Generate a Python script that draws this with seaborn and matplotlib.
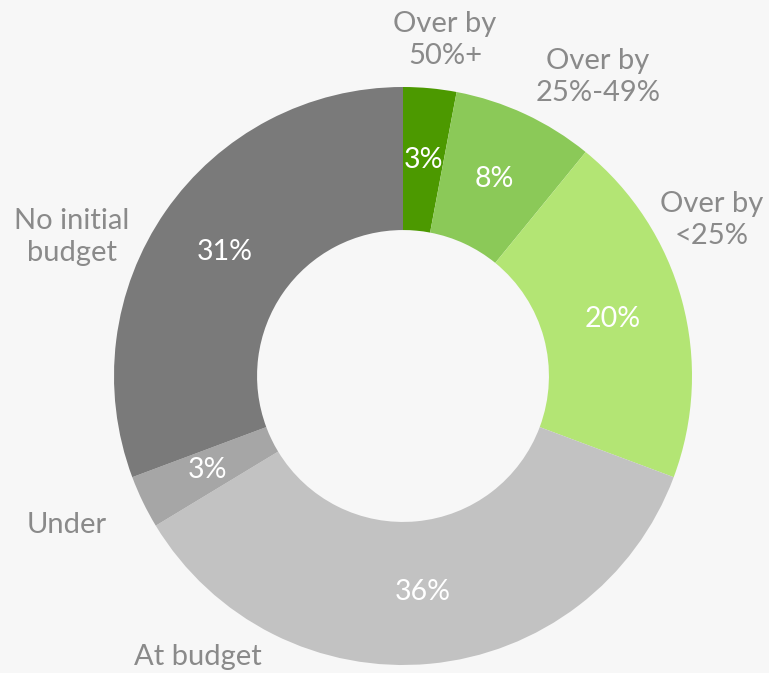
import seaborn as sns
import matplotlib.pyplot as plt

categorias = ['Over by\n50%+', 'Over by\n25%-49%', 'Over by\n<25%',
              'At budget', 'Under', 'No initial\nbudget']
valores = [3, 8, 20, 36, 3, 31]
cores = ['#4c9900', '#8bc958', '#b3e574', '#c2c2c2', '#a6a6a6', '#7a7a7a']

# posicao dos rotulos externos (coordenadas do grafico)
pos_rotulos = [(0.145, 1.163), (0.675, 1.035), (1.069, 0.540),
               (-0.709, -0.972), (-1.163, -0.516), (-1.145, 0.481)]

sns.set_theme(style='white')
plt.rcParams['font.family'] = ['Lato', 'DejaVu Sans']
paleta = sns.color_palette(cores)

fig = plt.figure(figsize=(7.69, 6.73), dpi=100, facecolor='#f7f7f7')
ax = fig.add_axes([114 / 769, (673 - 376 - 289) / 673, 578 / 769, 578 / 673])
ax.set_facecolor('#f7f7f7')

wedges, textos, pcts = ax.pie(valores, colors=paleta, startangle=90, counterclock=False,
                              radius=1, wedgeprops=dict(width=0.495, linewidth=0),
                              autopct=lambda p: f'{p:.0f}%', pctdistance=0.75)
for t in pcts:
    t.set_color('white')
    t.set_fontsize(20.5)

for nome, (x, y) in zip(categorias, pos_rotulos):
    ax.text(x, y, nome, ha='center', va='center', fontsize=21, color='#8a8a8a',
            linespacing=1.25)

ax.set_xlim(-1, 1)
ax.set_ylim(-1, 1)
ax.set_aspect('equal')
ax.axis('off')

plt.savefig('out.png', dpi=100, facecolor='#f7f7f7')
